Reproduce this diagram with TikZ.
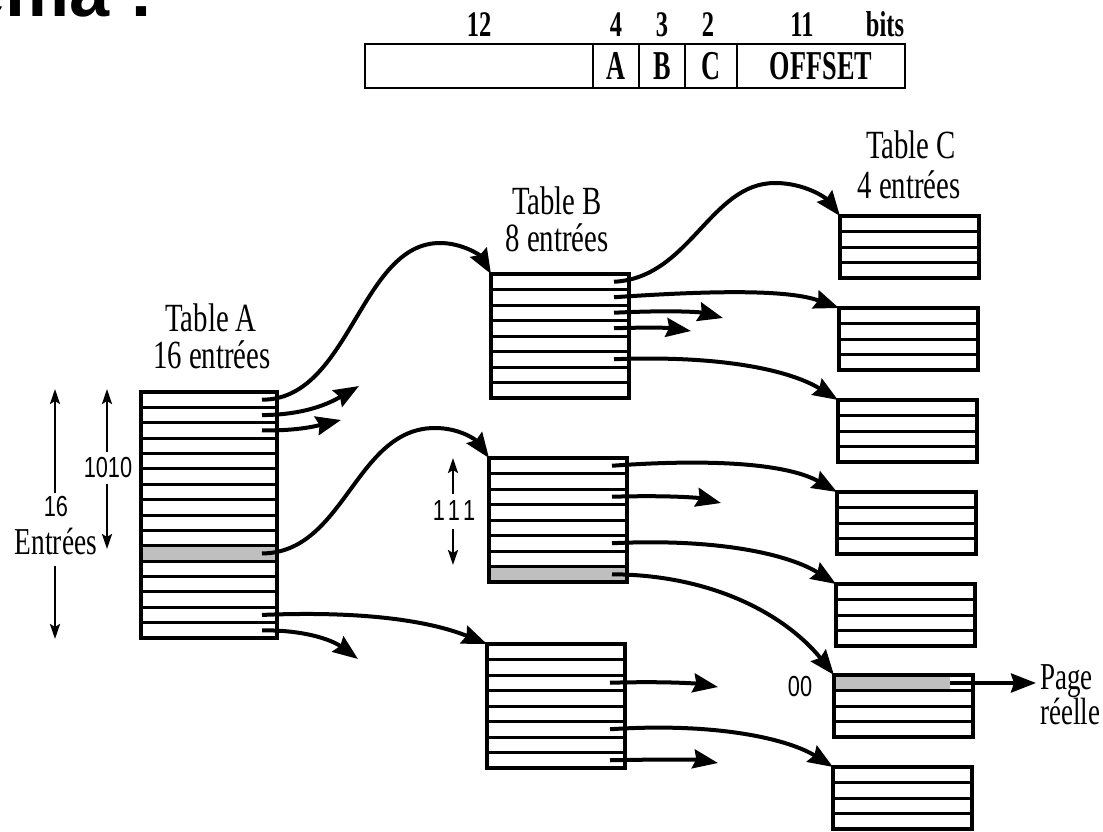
\documentclass[tikz,border=0pt]{standalone}
\usepackage{fontspec}
\setmainfont{Liberation Serif}
\newfontfamily\titlef{Liberation Sans}
\newfontfamily\cellf[FakeStretch=0.64]{Liberation Serif Bold}
\newfontfamily\topf[FakeStretch=0.68]{Liberation Serif Bold}
\newfontfamily\labf[FakeStretch=0.72]{Liberation Serif}
\newfontfamily\pagef[FakeStretch=0.71]{Liberation Serif}
\newfontfamily\numf[FakeStretch=0.75]{Liberation Sans}
\usetikzlibrary{arrows.meta}
\newcommand\drawtable[6]{%
  \node[tbl, minimum width=#4pt, minimum height=#5pt] (#1) at (#2,#3) {};%
  \pgfmathtruncatemacro\lastrow{#6-1}%
  \foreach \i in {1,...,\lastrow}{\draw[rowline] (#2,{#3+\i*#5/#6}) -- ++(#4,0);}%
  \foreach \i in {0,...,\lastrow}{\coordinate (#1-r\i) at ({#2+#4-15},{#3+(\i+0.5)*#5/#6});}%
}
\begin{document}
\begin{tikzpicture}[x=1pt,y=-1pt,
  tbl/.style={draw, line width=3.4pt, inner sep=0pt, outer sep=0pt, anchor=north west},
  rowline/.style={line width=3pt},
  ptr/.style={line width=4pt, -{Stealth[length=25pt,width=19pt,inset=3pt]}},
  dimarr/.style={line width=2.4pt, -{Stealth[length=15pt,width=10pt,inset=3pt]}},
  hatch/.style={fill=black!25},
  cell/.style={draw, line width=2.6pt, inner sep=0pt, outer sep=0pt, minimum height=44pt, anchor=north west, font=\cellf\fontsize{41}{41}\selectfont},
  toplab/.style={anchor=base, inner sep=0pt, font=\topf\fontsize{36}{36}\selectfont},
  tlab/.style={anchor=base, inner sep=0pt, font=\labf\fontsize{40}{40}\selectfont},
  num/.style={inner sep=0pt, font=\numf\fontsize{29}{29}\selectfont},
]
\useasboundingbox (0,0) rectangle (1103,832);
\fill[white] (0,0) rectangle (1103,832);

% title (cut by the page edge)
\node[anchor=base west, inner sep=0pt, font=\titlef\bfseries\fontsize{72}{72}\selectfont] (title) at (5.5,17) {\llap{Sché}ma :};

% address format
\node[cell, minimum width=228pt] (f12) at (365,44) {};
\node[cell, minimum width=46pt] (fA) at (593,44) {A};
\node[cell, minimum width=46pt] (fB) at (639,44) {B};
\node[cell, minimum width=52pt] (fC) at (685,44) {C};
\node[cell, minimum width=168pt] (fO) at (737,44) {OFFSET};
\node[toplab] (b12) at (479,37) {12};
\node[toplab] (b4) at (616,37) {4};
\node[toplab] (b3) at (662,37) {3};
\node[toplab] (b2) at (708,37) {2};
\node[toplab] (b11) at (802,37) {11};
\node[toplab] (bbits) at (885,37) {bits};

% shaded entries
\fill[hatch] (141,{392+10*15.375}) rectangle ++(136,15.375);
\fill[hatch] (489,{458+7*15.5}) rectangle ++(138,15.5);
\fill[hatch] (834,675) rectangle (950,690.5);

% tables
\drawtable{A}{141}{392}{136}{246}{16}
\drawtable{B1}{491}{274}{138}{124}{8}
\drawtable{B2}{489}{458}{138}{124}{8}
\drawtable{B3}{487}{644}{138}{124}{8}
\drawtable{C1}{840}{216}{139}{62}{4}
\drawtable{C2}{839}{308}{139}{62}{4}
\drawtable{C3}{838}{400}{139}{62}{4}
\drawtable{C4}{837}{492}{139}{62}{4}
\drawtable{C5}{836}{584}{139}{62}{4}
\drawtable{C6}{834}{675}{139}{62}{4}
\drawtable{C7}{833}{767}{139}{62}{4}

% table titles
\node[tlab] (labA1) at (211,331) {Table A};
\node[tlab] (labA2) at (212,368) {16 entrées};
\node[tlab] (labB1) at (557,214) {Table B};
\node[tlab] (labB2) at (557,251) {8 entrées};
\node[tlab] (labC1) at (911,159) {Table C};
\node[tlab] (labC2) at (909,198) {4 entrées};

% free arrow ends
\coordinate (a1e) at (359,386);
\coordinate (a2e) at (341,420);
\coordinate (a15e) at (358,659);
\coordinate (b12e) at (723,318);
\coordinate (b13e) at (691,331);
\coordinate (b22e) at (721,503);
\coordinate (b32e) at (718,687);
\coordinate (b37e) at (718,763);

% pointers from table A
\draw[ptr] (A-r0) .. controls (350,400) and (360,243) .. (440,243) .. controls (462,243) and (480,255) .. (B1.north west);
\draw[ptr] (A-r1) .. controls (310,415) and (335,400) .. (a1e);
\draw[ptr] (A-r2) .. controls (300,431) and (320,425) .. (a2e);
\draw[ptr] (A-r10) .. controls (345,553) and (355,428) .. (435,428) .. controls (460,428) and (476,440) .. (B2.north west);
\draw[ptr] (A-r14) .. controls (380,610) and (440,625) .. (B3.north west);
\draw[ptr] (A-r15) .. controls (310,630) and (335,642) .. (a15e);

% pointers from table B1
\draw[ptr] (B1-r0) .. controls (690,278) and (710,183) .. (775,183) .. controls (805,183) and (826,198) .. (C1.north west);
\draw[ptr] (B1-r1) .. controls (720,290) and (790,290) .. (C2.north west);
\draw[ptr] (B1-r2) .. controls (670,310) and (700,312) .. (b12e);
\draw[ptr] (B1-r3) .. controls (655,327) and (670,328) .. (b13e);
\draw[ptr] (B1-r5) .. controls (720,355) and (790,370) .. (C3.north west);

% pointers from table B2
\draw[ptr] (B2-r0) .. controls (720,458) and (790,465) .. (C4.north west);
\draw[ptr] (B2-r2) .. controls (670,495) and (700,498) .. (b22e);
\draw[ptr] (B2-r5) .. controls (720,538) and (790,555) .. (C5.north west);
\draw[ptr] (B2-r7) .. controls (720,575) and (790,620) .. (C6.north west);

% pointers from table B3
\draw[ptr] (B3-r2) .. controls (670,681) and (700,684) .. (b32e);
\draw[ptr] (B3-r5) .. controls (720,722) and (790,740) .. (C7.north west);
\draw[ptr] (B3-r7) .. controls (670,759) and (700,760) .. (b37e);

% real page
\node[anchor=north west, inner sep=0pt, align=left, font=\pagef\fontsize{38}{27}\selectfont] (pg) at (1040,664) {Page\\réelle};
\coordinate (c6p) at (950,683);
\coordinate (pgtip) at (1036,683);
\draw[ptr] (c6p) -- (pgtip);
\node[num] (n00) at (800,687) {00};

% dimension marks
\node[num] (n16) at (56,507) {16};
\node[anchor=base, inner sep=0pt, font=\labf\fontsize{38}{38}\selectfont] (entr) at (56,554) {Entrées};
\coordinate (d16a) at (55,493); \coordinate (d16t) at (55,389);
\coordinate (d16b) at (55,566); \coordinate (d16u) at (55,639);
\draw[dimarr] (d16a) -- (d16t);
\draw[dimarr] (d16b) -- (d16u);
\node[num] (n1010) at (108,468) {1010};
\coordinate (d10a) at (107,452); \coordinate (d10t) at (107,389);
\coordinate (d10b) at (107,484); \coordinate (d10u) at (107,549);
\draw[dimarr] (d10a) -- (d10t);
\draw[dimarr] (d10b) -- (d10u);
\node[num] (n111) at (454,511) {1\hspace{3pt}1\hspace{3pt}1};
\coordinate (d11a) at (453,494); \coordinate (d11t) at (453,458);
\coordinate (d11b) at (453,529); \coordinate (d11u) at (453,565);
\draw[dimarr] (d11a) -- (d11t);
\draw[dimarr] (d11b) -- (d11u);
\end{tikzpicture}
\end{document}
